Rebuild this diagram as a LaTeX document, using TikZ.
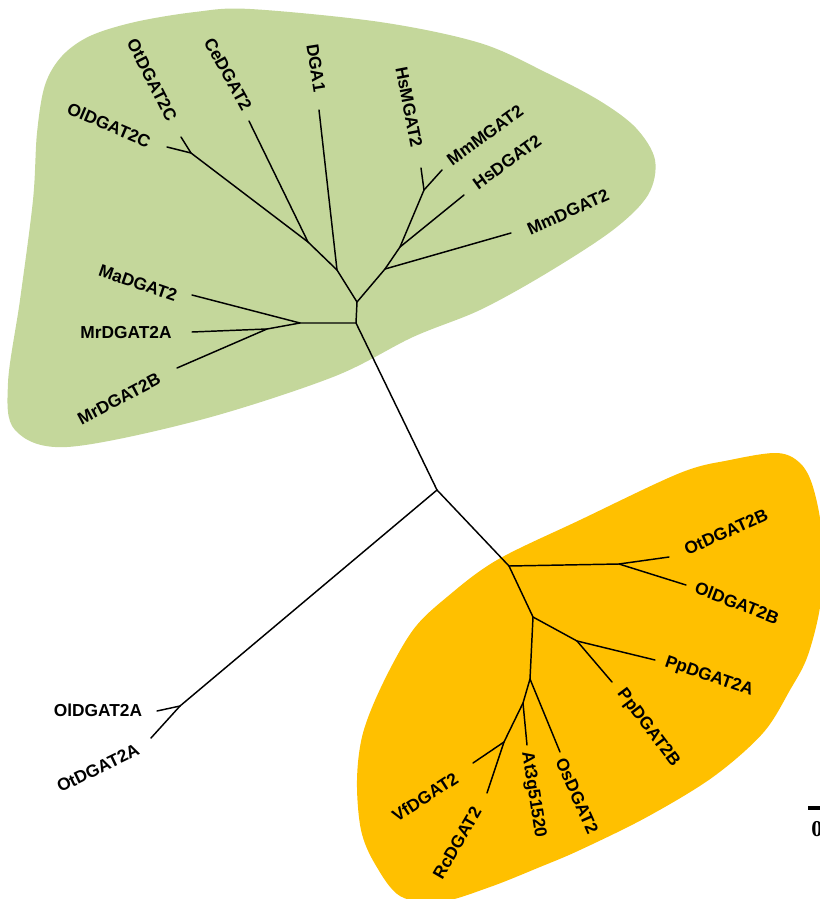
\documentclass[tikz,border=0pt]{standalone}
\usepackage{fontspec}
\setmainfont{Liberation Sans}
\newfontfamily\barfont{Liberation Serif}
\usepackage{tikz}
\usetikzlibrary{positioning,calc}
\definecolor{cladegreen}{HTML}{C4D79B}
\definecolor{cladeorange}{HTML}{FFC000}

\begin{document}
\begin{tikzpicture}[x=0.75pt,y=-0.75pt,
  font=\fontsize{13}{15}\selectfont\bfseries,
  br/.style={line width=1.1pt,line cap=round,line join=round},
  taxon/.style={inner sep=0pt,anchor=center},
  blob/.style={smooth cycle,tension=0.55}
]
\useasboundingbox (0,0) rectangle (819,899);
% ---- Clade backgrounds ----
\fill[cladegreen] plot[blob] coordinates {
  (250,9) (380,22) (480,43) (547,73) (600,101) (636,128) (655,160)
  (648,195) (613,230) (547,273) (480,310) (413,337) (333,377)
  (200,420) (67,447) (15,430) (8,383) (20,300) (33,200) (37,133)
  (45,85) (62,56) (90,36) (135,22) (195,12)};
\fill[cladeorange] plot[blob] coordinates {
  (680,473) (730,460) (777,453) (800,463) (813,487) (822,535) (821,600)
  (808,655) (790,690) (763,733) (713,777) (647,817) (580,850) (540,867)
  (490,887) (440,902) (400,896) (375,864) (361,830) (357,780) (363,733)
  (383,683) (413,630) (447,597) (497,560) (580,520)};
% ---- Internal nodes ----
\coordinate (root) at (437,490);
\coordinate (g1)   at (356,323);
\coordinate (g2)   at (357,302);
\coordinate (gL)   at (300,323);
\coordinate (gMr)  at (267,329);
\coordinate (gU1)  at (337,270);
\coordinate (gU2)  at (308,242);
\coordinate (gU3)  at (191,153);
\coordinate (gR1)  at (385,269);
\coordinate (gR2)  at (400,247);
\coordinate (gR3)  at (424,190);
\coordinate (aA)   at (180,706);
\coordinate (o1)   at (509,566);
\coordinate (oB)   at (619,564);
\coordinate (o2)   at (533,617);
\coordinate (oPp)  at (577,641);
\coordinate (o3)   at (530,679);
\coordinate (o4)   at (523,703);
\coordinate (oVR)  at (504,742);
% ---- Leaves ----
\coordinate (lOtC)  at (181,137);
\coordinate (lOlC)  at (167,147);
\coordinate (lCe)   at (249,121);
\coordinate (lDGA)  at (319,110);
\coordinate (lHsM)  at (421,168);
\coordinate (lMmM)  at (442,170);
\coordinate (lHsD)  at (464,195);
\coordinate (lMmD)  at (511,233);
\coordinate (lMa)   at (192,295);
\coordinate (lMrA)  at (192,332);
\coordinate (lMrB)  at (177,368);
\coordinate (lOlA)  at (157,711);
\coordinate (lOtA)  at (151,738);
\coordinate (lOtB)  at (669,557);
\coordinate (lOlB)  at (686,585);
\coordinate (lPpA)  at (655,660);
\coordinate (lPpB)  at (612,682);
\coordinate (lOs)   at (560,752);
\coordinate (lAt)   at (527,745);
\coordinate (lVf)   at (473,763);
\coordinate (lRc)   at (487,793);
% ---- Branches ----
\draw[br] (root) -- (g1) -- (g2) -- (gU1) -- (gU2) -- (gU3) -- (lOtC);
\draw[br] (gU3) -- (lOlC);
\draw[br] (gU2) -- (lCe);
\draw[br] (gU1) -- (lDGA);
\draw[br] (g2) -- (gR1) -- (gR2) -- (gR3) -- (lHsM);
\draw[br] (gR3) -- (lMmM);
\draw[br] (gR2) -- (lHsD);
\draw[br] (gR1) -- (lMmD);
\draw[br] (g1) -- (gL) -- (lMa);
\draw[br] (gL) -- (gMr) -- (lMrA);
\draw[br] (gMr) -- (lMrB);
\draw[br] (root) -- (aA) -- (lOlA);
\draw[br] (aA) -- (lOtA);
\draw[br] (root) -- (o1) -- (oB) -- (lOtB);
\draw[br] (oB) -- (lOlB);
\draw[br] (o1) -- (o2) -- (oPp) -- (lPpA);
\draw[br] (oPp) -- (lPpB);
\draw[br] (o2) -- (o3) -- (lOs);
\draw[br] (o3) -- (o4) -- (lAt);
\draw[br] (o4) -- (oVR) -- (lVf);
\draw[br] (oVR) -- (lRc);
% ---- Taxon labels ----
\node[taxon,rotate=-63] (tOtC) at (152,80)  {OtDGAT2C};
\node[taxon,rotate=-23] (tOlC) at (109,125) {OlDGAT2C};
\node[taxon,rotate=-61] (tCe)  at (228,74)  {CeDGAT2};
\node[taxon,rotate=-81] (tDGA) at (316,68)  {DGA1};
\node[taxon,rotate=-79] (tHsM) at (409,107) {HsMGAT2};
\node[taxon,rotate=36]  (tMmM) at (485,135) {MmMGAT2};
\node[taxon,rotate=36]  (tHsD) at (507,162) {HsDGAT2};
\node[taxon,rotate=24]  (tMmD) at (568,212) {MmDGAT2};
\node[taxon,rotate=-19] (tMa)  at (138,283) {MaDGAT2};
\node[taxon]            (tMrA) at (126,333) {MrDGAT2A};
\node[taxon,rotate=28]  (tMrB) at (119,399) {MrDGAT2B};
\node[taxon]            (tOlA) at (98,710)  {OlDGAT2A};
\node[taxon,rotate=26]  (tOtA) at (98,768)  {OtDGAT2A};
\node[taxon,rotate=24]  (tOtB) at (726,532) {OtDGAT2B};
\node[taxon,rotate=-21] (tOlB) at (737,603) {OlDGAT2B};
\node[taxon,rotate=-19] (tPpA) at (709,677) {PpDGAT2A};
\node[taxon,rotate=-53] (tPpB) at (648,728) {PpDGAT2B};
\node[taxon,rotate=-66] (tOs)  at (577,796) {OsDGAT2};
\node[taxon,rotate=-81] (tAt)  at (533,795) {At3g51520};
\node[taxon,rotate=33]  (tVf)  at (425,797) {VfDGAT2};
\node[taxon,rotate=60]  (tRc)  at (457,843) {RcDGAT2};
% ---- Scale bar ----
\coordinate (sb0) at (808,808);
\coordinate (sb1) at (824,808);
\draw[line width=2.4pt] (sb0) -- (sb1);
\node[anchor=west,inner sep=0pt,font=\barfont\bfseries\fontsize{17}{19}\selectfont]
  (sbl) at (811,829) {0};
\end{tikzpicture}
\end{document}
